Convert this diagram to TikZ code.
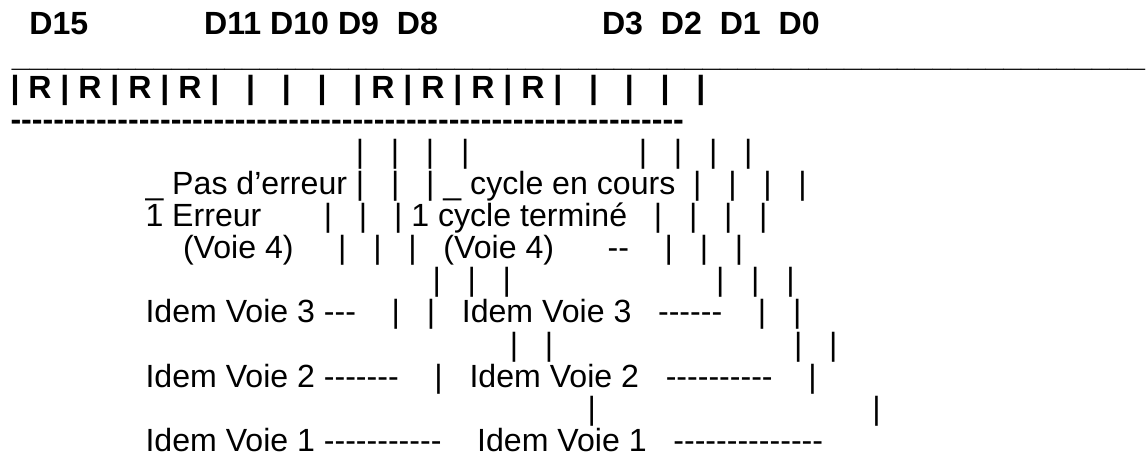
\documentclass[tikz,border=0pt]{standalone}
\usepackage{fontspec}
\setmainfont{Liberation Sans}
\newcommand\spc[1]{\hspace*{#1\fontdimen2\font}}
\newcommand\rep[2]{\foreach \i in {1,...,#1}{#2\kern0pt}}
\tikzset{
  line/.style={anchor=base west,inner sep=0pt,outer sep=0pt,
    font=\fontsize{32.1pt}{32.1pt}\selectfont},
  bold/.style={line,font=\fontsize{32.1pt}{32.1pt}\selectfont\bfseries}
}
\begin{document}
\begin{tikzpicture}[x=1pt,y=-1pt]
\useasboundingbox (0,0) rectangle (1147,456);
% register header
\node[bold] (bitnums) at (29.4,34) {D15\spc{13}D11 D10 D9\spc{2}D8\spc{18.4}D3\spc{2}D2\spc{2}D1\spc{2}D0};
\node[bold] (topline) at (12,66.1) {\scalebox{0.992}[1]{\rep{64}{\_}}};
\node[bold] (cells) at (10.5,98.2) {| R | R | R | R |\spc{3}|\spc{3}|\spc{3}|\spc{3}| R | R | R | R |\spc{3}|\spc{3}|\spc{3}|\spc{3}|};
\node[bold] (botline) at (10.5,130.3) {\rep{63}{-}};
% legend
\node[line] (ticks) at (355.8,162.4) {|\spc{3}|\spc{3}|\spc{3}|\spc{19}|\spc{3}|\spc{3}|\spc{3}|};
\node[line] (zero) at (145.5,194.5) {\_ Pas d’erreur |\spc{3}|\spc{3}| \_ cycle en cours\spc{2}|\spc{3}|\spc{3}|\spc{3}|};
\node[line] (one) at (145.5,226.6) {1 Erreur\spc{7}|\spc{3}|\spc{3}| 1 cycle terminé\spc{3}|\spc{3}|\spc{3}|\spc{3}|};
\node[line] (voie4) at (183,258.7) {(Voie 4)\spc{5}|\spc{3}|\spc{3}|\spc{3}(Voie 4)\spc{6}\rep{2}{-}\spc{4}|\spc{3}|\spc{3}|};
\node[line] (ticksa) at (432.5,290.8) {|\spc{3}|\spc{3}|\spc{23}|\spc{3}|\spc{3}|};
\node[line] (voie3) at (145.5,322.9) {Idem Voie 3 \rep{3}{-}\spc{4}|\spc{3}|\spc{3}Idem Voie 3\spc{3}\rep{6}{-}\spc{4}|\spc{3}|};
\node[line] (ticksb) at (509.8,355) {|\spc{3}|\spc{27}|\spc{3}|};
\node[line] (voie2) at (145.5,387.1) {Idem Voie 2 \rep{7}{-}\spc{4}|\spc{3}Idem Voie 2\spc{3}\rep{10}{-}\spc{4}|};
\node[line] (ticksc) at (587.5,419.2) {|\spc{31}|};
\node[line] (voie1) at (145.5,451.3) {Idem Voie 1 \rep{11}{-}\spc{4}Idem Voie 1\spc{3}\rep{14}{-}};
\end{tikzpicture}
\end{document}
